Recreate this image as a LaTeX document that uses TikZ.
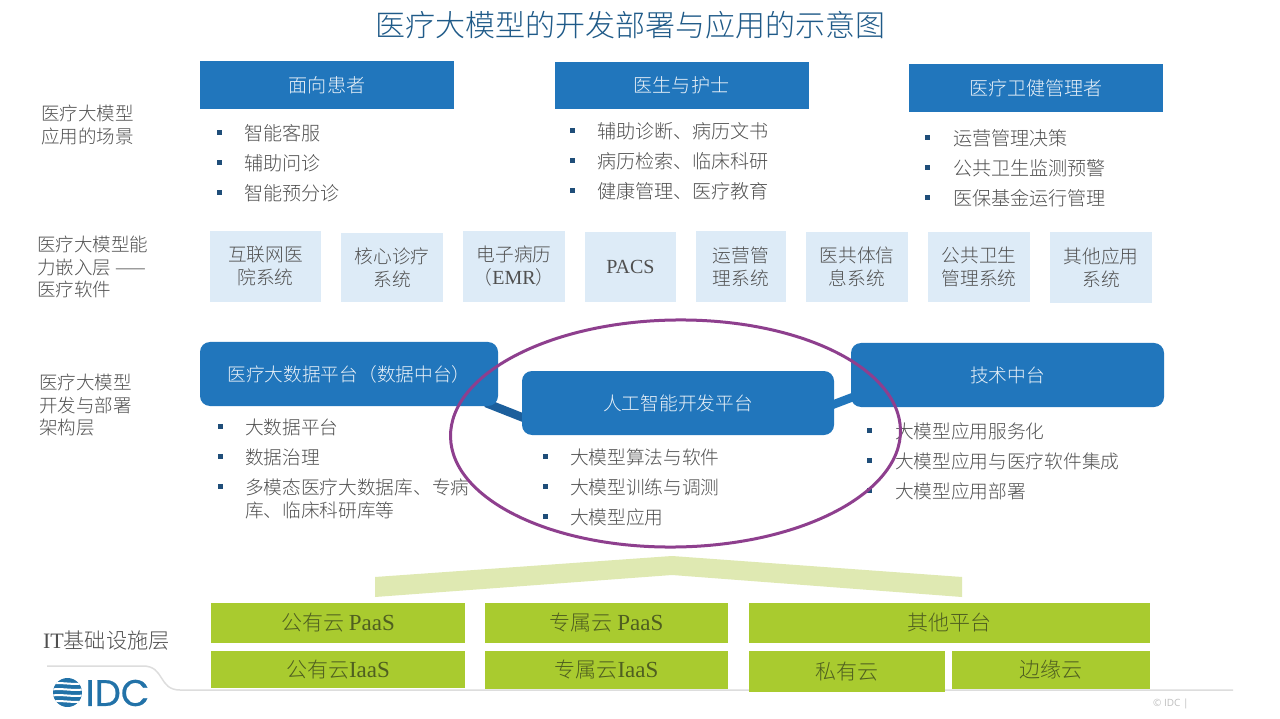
\documentclass[tikz,border=0pt]{standalone}
\usepackage{fontspec}
\usetikzlibrary{shapes.geometric,calc}
\setmainfont{Liberation Serif}
\newfontfamily\cjk{Noto Sans CJK SC Light}
\newfontfamily\lgf[FakeBold=0.6]{Poppins}
\newfontfamily\copyf{Open Sans}
\newcommand{\fs}[2]{\fontsize{#1}{#2}\selectfont}
\newcommand{\lat}[1]{{\rmfamily\normalfont\fontsize{20}{23}\selectfont #1}}
\newcommand{\latg}[1]{{\rmfamily\normalfont\fontsize{23}{23}\selectfont #1}}
\definecolor{hdrblue}{HTML}{2176BC}
\definecolor{lightblue}{HTML}{DDEBF7}
\definecolor{appgreen}{HTML}{A9CB2F}
\definecolor{palegreen}{HTML}{DFE9B2}
\definecolor{txtgray}{HTML}{505050}
\definecolor{titleblue}{HTML}{1F5A88}
\definecolor{bulletblue}{HTML}{1F4E79}
\definecolor{linkdark}{HTML}{1C5F9C}
\definecolor{ringpurple}{HTML}{8E3F8E}
\definecolor{rulegray}{HTML}{DDDDDD}
\definecolor{logoblue}{HTML}{2272A8}
\definecolor{greentxt}{HTML}{4F5F20}
\pgfdeclarelayer{bg}
\pgfsetlayers{bg,main}
\tikzset{
  base/.style={inner sep=0pt,outer sep=0pt,align=center,font=\cjk\fs{18.7}{23}},
  hdrbox/.style={base,fill=hdrblue,text=white!90!hdrblue},
  roundbox/.style={hdrbox,rounded corners=10pt},
  softbox/.style={base,fill=lightblue,text=txtgray},
  greenbox/.style={base,fill=appgreen,text=greentxt,font=\cjk\fs{21}{23}},
  sidelabel/.style={inner sep=0pt,outer sep=0pt,align=left,anchor=west,text=txtgray,font=\cjk\fs{18.5}{22.5}},
  itemtext/.style={inner sep=0pt,outer sep=0pt,anchor=west,align=left,text=txtgray,text height=17pt,text depth=1pt,font=\cjk\fs{18.7}{23}},
  itemmark/.style={fill=bulletblue,inner sep=0pt,outer sep=0pt,minimum size=5pt},
  link/.style={line width=8.5pt},
}
\newcommand{\blt}[5]{% name, bullet x, text x, y, text
  \node[itemmark] (#1m) at (#2,#4) {};
  \node[itemtext] (#1) at (#3,#4) {#5};
}
\newcommand{\bg}[1]{\fs{19.1}{23}#1}
\begin{document}
\begin{tikzpicture}[x=1pt,y=-1pt]
\useasboundingbox (0,0) rectangle (1280,719);
\begin{pgfonlayer}{bg}
  \fill[white] (0,0) rectangle (1280,719);
\end{pgfonlayer}

\node[base,text=titleblue,font=\cjk\fs{30}{34}] (title) at (630.5,25) {医疗大模型的开发部署与应用的示意图};

% side labels
\node[sidelabel] (s1) at (41,125) {医疗大模型\\应用的场景};
\node[sidelabel] (s2) at (37,267) {医疗大模型能\\力嵌入层 ——\\医疗软件};
\node[sidelabel] (s3) at (39,405.5) {医疗大模型\\开发与部署\\架构层};
\node[sidelabel,font=\cjk\fs{21.2}{24}] (s4) at (43,641) {{\rmfamily\normalfont\fontsize{22}{24}\selectfont IT}基础设施层};

% headers
\node[hdrbox,minimum width=254pt,minimum height=48pt] (h1) at (327,85) {\bg{面向患者}};
\node[hdrbox,minimum width=254pt,minimum height=47pt] (h2) at (681.5,85.5) {\bg{医生与护士}};
\node[hdrbox,minimum width=254pt,minimum height=48pt] (h3) at (1036,88) {\bg{医疗卫健管理者}};

\blt{a1}{219}{244}{133}{\bg{智能客服}}
\blt{a2}{219}{244}{163}{\bg{辅助问诊}}
\blt{a3}{219}{244}{193}{\bg{智能预分诊}}
\blt{b1}{572}{597}{131}{\bg{辅助诊断、病历文书}}
\blt{b2}{572}{597}{161}{\bg{病历检索、临床科研}}
\blt{b3}{572}{597}{191}{\bg{健康管理、医疗教育}}
\blt{c1}{927}{953}{138}{\bg{运营管理决策}}
\blt{c2}{927}{953}{168}{\bg{公共卫生监测预警}}
\blt{c3}{927}{953}{198}{\bg{医保基金运行管理}}

% application systems
\node[softbox,minimum width=111pt,minimum height=71pt] (m1) at (265.5,266.5) {互联网医\\院系统};
\node[softbox,minimum width=102pt,minimum height=69pt] (m2) at (392,267.5) {核心诊疗\\系统};
\node[softbox,minimum width=102pt,minimum height=71pt] (m3) at (514,266.5) {电子病历\\（\lat{EMR}）};
\node[softbox,minimum width=91pt,minimum height=70pt] (m4) at (630.5,267) {\lat{PACS}};
\node[softbox,minimum width=90pt,minimum height=71pt] (m5) at (741,266.5) {运营管\\理系统};
\node[softbox,minimum width=102pt,minimum height=70pt] (m6) at (857,267) {医共体信\\息系统};
\node[softbox,minimum width=102pt,minimum height=70pt] (m7) at (979,267) {公共卫生\\管理系统};
\node[softbox,minimum width=102pt,minimum height=71pt] (m8) at (1101,267.5) {其他应用\\系统};

% platforms
\node[roundbox,minimum width=298pt,minimum height=64pt] (dp) at (349,374) {医疗大数据平台（数据中台）};
\node[roundbox,minimum width=312pt,minimum height=64pt] (ai) at (678,403) {人工智能开发平台};
\node[roundbox,minimum width=313pt,minimum height=64pt] (tp) at (1007.5,375) {技术中台};
\begin{pgfonlayer}{bg}
  \draw[link,linkdark] ([xshift=-12pt,yshift=3pt]dp.south east) -- ([xshift=2pt,yshift=-15pt]ai.west);
  \draw[link,hdrblue] ([xshift=-2pt,yshift=-2pt]ai.east) -- ([xshift=2pt,yshift=-22pt]tp.west);
\end{pgfonlayer}

\blt{d1}{220}{245}{426.5}{大数据平台}
\blt{d2}{220}{245}{456.5}{数据治理}
\blt{d3}{220}{245}{486.5}{多模态医疗大数据库、专病}
\node[itemtext] (d4) at (245,509.5) {库、临床科研库等};
\blt{e1}{545}{570}{456.5}{大模型算法与软件}
\blt{e2}{545}{570}{486.5}{大模型训练与调测}
\blt{e3}{545}{570}{516.5}{大模型应用}
\blt{f1}{869}{895}{430.5}{大模型应用服务化}
\blt{f2}{869}{895}{460.5}{大模型应用与医疗软件集成}
\blt{f3}{869}{895}{490.5}{大模型应用部署}

% chevron
\fill[palegreen] (375,577) -- (672,556) -- (962,577) -- (962,597) -- (672,575) -- (375,597) -- cycle;

% footer rule
\draw[rulegray,line width=1.5pt] (47,666) -- (143,666) .. controls (165,666) and (158,690) .. (180,690) -- (1233,690);

% infrastructure
\node[greenbox,minimum width=254pt,minimum height=40pt] (g1) at (338,623) {公有云 \latg{PaaS}};
\node[greenbox,minimum width=243pt,minimum height=40pt] (g2) at (606.5,623) {专属云 \latg{PaaS}};
\node[greenbox,minimum width=401pt,minimum height=40pt] (g3) at (949.5,623) {其他平台};
\node[greenbox,minimum width=254pt,minimum height=37pt] (g4) at (338,669.5) {公有云\latg{IaaS}};
\node[greenbox,minimum width=243pt,minimum height=38pt] (g5) at (606.5,670) {专属云\latg{IaaS}};
\node[greenbox,minimum width=196pt,minimum height=41pt] (g6) at (847,671.5) {私有云};
\node[greenbox,minimum width=198pt,minimum height=38pt] (g7) at (1051,670) {边缘云};

% ring
\node[ellipse,draw=ringpurple,line width=3pt,inner sep=0pt,minimum width=450pt,minimum height=227pt,rotate=0.85] (ring) at (675.5,433.5) {};

% logo
\begin{scope}
  \clip (67.5,692.5) circle (14.5);
  \fill[logoblue] (53,678) rectangle (82,707);
  \foreach \yy in {683.5,689.5,695.5,701.5}
    \draw[white,line width=2pt] (52,\yy) .. controls (62,\yy-1.5) and (72,\yy+1.5) .. (83,\yy);
\end{scope}
\node[inner sep=0pt,text=logoblue,font=\lgf\fs{37}{37}] (logo) at (117.5,693) {IDC};
\node[inner sep=0pt,anchor=west,text=black!25,font=\copyf\fs{10}{12}] (copy) at (1153,704) {© IDC |};
\end{tikzpicture}
\end{document}
